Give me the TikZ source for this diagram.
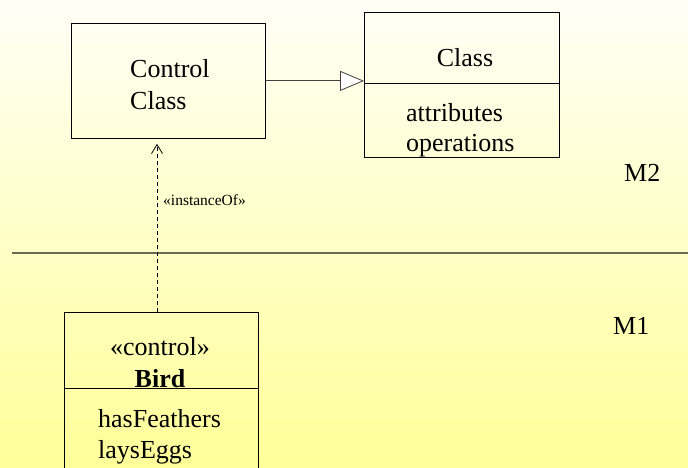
\documentclass[tikz,border=0pt]{standalone}
\usepackage{fontspec}
\setmainfont{Liberation Serif}
\usetikzlibrary{arrows.meta,positioning,calc}
\definecolor{bgtop}{RGB}{255,255,247}
\definecolor{bgbot}{RGB}{255,255,153}
\definecolor{rulegray}{RGB}{105,105,90}

\begin{document}
\begin{tikzpicture}[x=1pt,y=-1pt,
  box/.style={draw=black,line width=0.8pt,inner sep=0pt,minimum width=194pt,anchor=north west},
  txt/.style={font=\fontsize{26}{31}\selectfont,inner sep=0pt},
  small/.style={font=\fontsize{15.5}{17}\selectfont,inner sep=0pt},
  gen/.style={draw=black!75,line width=0.8pt,-{Triangle[fill=white,length=24pt,width=20pt,line width=0.8pt]}},
  dep/.style={draw=black,line width=0.7pt,dash pattern=on 4pt off 3pt,
    -{Straight Barb[length=9pt,width=11pt,line width=0.8pt]},shorten >=5pt}]
  % background
  \shade[top color=bgtop,bottom color=bgbot] (0,0) rectangle (688,468);
  \useasboundingbox (0,0) rectangle (688,468);

  % M2 level
  \node[box,minimum height=115pt] (ctrl) at (71,23) {};
  \node[txt,anchor=base west] (ctrlA) at (130,78) {Control};
  \node[txt,anchor=base west] (ctrlB) at (130,110) {Class};

  \node[box,minimum width=195pt,minimum height=145pt] (cls) at (364,12) {};
  \draw[line width=0.8pt] (cls.west |- 0,83) -- (cls.east |- 0,83);
  \node[txt,anchor=base] (clsname) at (465,67) {Class};
  \node[txt,anchor=base west] (clsattr) at (406,122) {attributes};
  \node[txt,anchor=base west] (clsops) at (406,152) {operations};

  \draw[gen] (ctrl.east) -- (ctrl.east -| cls.west);

  \node[txt,anchor=base west] (mtwo) at (624,182) {M2};

  % level border
  \draw[rulegray,line width=1.3pt] (12,253) -- (688,253);

  % M1 level
  \node[box,minimum height=160pt] (bird) at (64,312) {};
  \draw[line width=0.8pt] (bird.west |- 0,388) -- (bird.east |- 0,388);
  \node[txt,anchor=base] (birdst) at (160,355) {«control»};
  \node[txt,anchor=base] (birdname) at (160,387) {\bfseries Bird};
  \node[txt,anchor=base west] (birdA) at (98,427) {hasFeathers};
  \node[txt,anchor=base west] (birdB) at (98,458) {laysEggs};

  \node[txt,anchor=base west] (mone) at (613,334) {M1};

  \draw[dep] (bird.north -| 157,0) -- (ctrl.south -| 157,0);
  \node[small,anchor=base west] (inst) at (163,205) {«instanceOf»};
\end{tikzpicture}
\end{document}
